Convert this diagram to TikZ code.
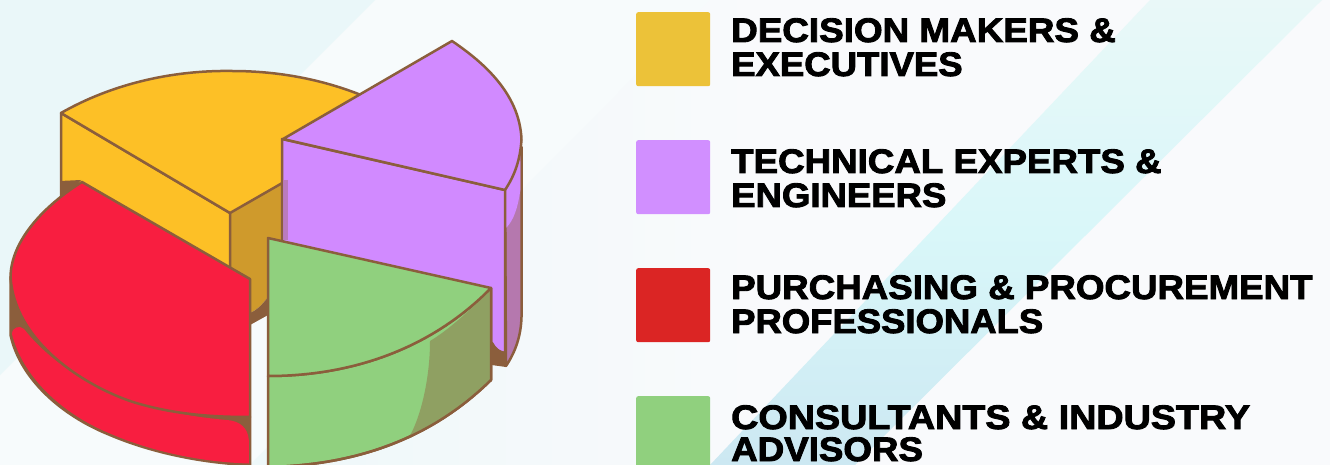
\documentclass[tikz,border=0pt]{standalone}
\usepackage{fontspec}
\newfontfamily\lgfont[FakeBold=2.6,FakeStretch=1.08]{Liberation Sans Bold}
\definecolor{edge}{HTML}{8B5E3C}
\definecolor{yel}{HTML}{FDC026}
\definecolor{yeldark}{HTML}{CF9A2C}
\definecolor{pur}{HTML}{D18AFF}
\definecolor{purdark}{HTML}{B578AE}
\definecolor{redt}{HTML}{F81E40}
\definecolor{grn}{HTML}{90D07E}
\definecolor{grndark}{HTML}{8FA062}
\definecolor{bgbase}{HTML}{F7FBFC}
\definecolor{bgteal}{HTML}{EAF7F9}
\definecolor{bgfadeA}{HTML}{EEF8F9}
\definecolor{bgfadeB}{HTML}{F9FAFC}
\definecolor{bandA}{HTML}{E9F8F8}
\definecolor{bandB}{HTML}{D9F7F9}
\definecolor{bandC}{HTML}{CCE8F2}
\definecolor{swA}{HTML}{ECC239}
\definecolor{swB}{HTML}{D18FFF}
\definecolor{swC}{HTML}{DB2524}
\definecolor{swD}{HTML}{90D07E}
\tikzset{
  pieline/.style={draw=edge,line width=2.5pt,line join=round},
  swatch/.style={minimum width=74pt,minimum height=74pt,inner sep=0pt,rounded corners=2pt,anchor=north west},
  legendtext/.style={anchor=base west,inner sep=0pt,align=left,text=black,font=\lgfont\fontsize{34}{34}\selectfont}
}
\begin{document}
\begin{tikzpicture}[x=1pt,y=-1pt]
\useasboundingbox (0,0) rectangle (1330,465);
% background
\fill[bgfadeB] (0,0) rectangle (1330,465);
\fill[bgbase] (0,0) rectangle (760,465);
\fill[bgteal] (0,0) -- (375,0) -- (0,375) -- cycle;
\shade[left color=bgfadeA,right color=bgfadeB] (710,0) -- (250,465) -- (760,465) -- (760,0) -- cycle;
\shade[top color=bandA,bottom color=bandC,middle color=bandB] (1150,0) -- (1322,0) -- (855,465) -- (710,465) -- cycle;
% yellow slice
\fill[yeldark] (230,213) -- (290,178) -- (290,298) -- (268,297)
  .. controls (262,305) and (257,310) .. (250,313) -- (230,300) -- cycle;
\fill[edge] (250,313) .. controls (257,310) and (262,305) .. (268,297) -- (268,315) -- (250,325) -- cycle;
\filldraw[pieline,fill=yel] (61,113) -- (230,213) -- (230,300) -- (61,200) -- cycle;
\filldraw[pieline,fill=yel] (61,113) .. controls (110,85) and (170,70) .. (232,71)
  .. controls (280,71) and (325,80) .. (366,97) -- (366,135) -- (230,213) -- cycle;
% purple slice
\fill[edge] (470,330) -- (492,343) .. controls (495,349) and (499,352) .. (504,353) -- (522,320) -- (506,367) -- (470,362) -- cycle;
\filldraw[pieline,fill=purdark] (505,189) .. controls (513,178) and (520,163) .. (521.5,147) -- (521.5,317)
  .. controls (521,335) and (516,351) .. (506,366) -- cycle;
\fill[pur] (505,189) .. controls (513,178) and (520,163) .. (520.3,148) -- (520.3,190)
  .. controls (518,207) and (514,220) .. (506,228) -- cycle;
\filldraw[pieline,fill=pur] (282,139) -- (505,190) -- (505,353) .. controls (499,352) and (495,349) .. (492,343) -- (282,330) -- cycle;
\fill[purdark,opacity=.8] (284,180) -- (288,180) -- (288,240) -- (284,240) -- cycle;
\filldraw[pieline,fill=pur] (283,139) -- (452,41) .. controls (480,60) and (520,92) .. (521.5,140)
  .. controls (520,160) and (515,175) .. (505,190) -- cycle;
% red slice
\fill[edge] (60,181) -- (81,180) -- (60,205) -- cycle;
\filldraw[pieline,fill=edge] (10.5,277) -- (10.5,335)
  .. controls (20,378) and (60,415) .. (110,435) .. controls (150,452) and (200,463) .. (250,465)
  -- (250,417) -- (100,330) -- cycle;
\fill[redt] (12,334) .. controls (12,327) and (20,325) .. (24,329)
  .. controls (60,375) and (130,412) .. (227,420) .. controls (240,421) and (248,428) .. (248.8,440)
  -- (248.8,463.5) .. controls (200,462) and (150,451) .. (110,433.5)
  .. controls (60,413) and (22,375) .. (12,334) -- cycle;
\filldraw[pieline,fill=redt] (82,182) -- (250,279) -- (250,417)
  .. controls (215,417) and (175,415) .. (133,402)
  .. controls (90,388) and (15,345) .. (10.5,277)
  .. controls (11,240) and (45,205) .. (82,182) -- cycle;
\draw[edge,line width=2.5pt] (250,417) -- (250,465);
% green slice
\filldraw[pieline,fill=grn] (268,376) .. controls (350,376) and (430,350) .. (491,288) -- (491,380)
  .. controls (440,430) and (370,465) .. (268,467) -- cycle;
\fill[grndark] (430,341) .. controls (450,329) and (470,310) .. (490,290) -- (490,379)
  .. controls (465,405) and (435,425) .. (408,439) .. controls (420,420) and (430,380) .. (430,341) -- cycle;
\draw[pieline] (491,288) -- (491,380) .. controls (440,430) and (370,465) .. (268,467);
\filldraw[pieline,fill=grn] (268,238) -- (491,288) .. controls (430,350) and (350,376) .. (268,376) -- cycle;
% legend
\node[swatch,fill=swA] (s1) at (636,12) {};
\node[swatch,fill=swB] (s2) at (636,140) {};
\node[swatch,fill=swC] (s3) at (636,268) {};
\node[swatch,fill=swD] (s4) at (636,396) {};
\node[legendtext] (t1a) at (731,42) {\scalebox{1.003}[1]{DECISION MAKERS \&}};
\node[legendtext] (t1b) at (731,76) {\scalebox{.995}[1]{EXECUTIVES}};
\node[legendtext] (t2a) at (731,173) {TECHNICAL EXPERTS \&};
\node[legendtext] (t2b) at (731,207) {\scalebox{.995}[1]{ENGINEERS}};
\node[legendtext] (t3a) at (731,299) {PURCHASING \& PROCUREMENT};
\node[legendtext] (t3b) at (731,333) {\scalebox{.993}[1]{PROFESSIONALS}};
\node[legendtext] (t4a) at (731,429) {\scalebox{1.027}[1]{CONSULTANTS \& INDUSTRY}};
\node[legendtext] (t4b) at (731,461) {ADVISORS};
\end{tikzpicture}
\end{document}
